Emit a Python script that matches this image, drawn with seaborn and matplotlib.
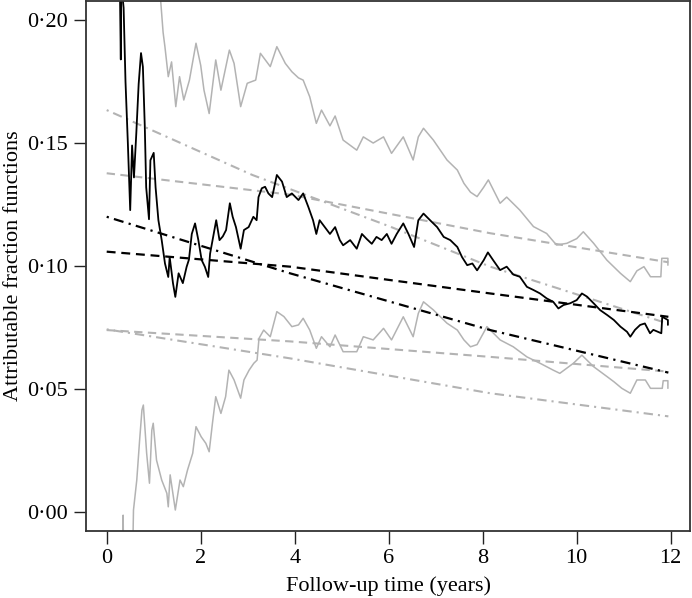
import numpy as np
import pandas as pd
import seaborn as sns
import matplotlib.pyplot as plt

# Nonparametric attributable fraction (step estimate) and its pointwise CI
af_time = [0.27, 0.30, 0.31, 0.36, 0.40, 0.45, 0.50, 0.54, 0.58, 0.63, 0.68, 0.73, 0.77, 0.81,
           0.84, 0.90, 0.93, 1.00, 1.04, 1.10, 1.17, 1.24, 1.31, 1.34, 1.41, 1.46, 1.53, 1.62,
           1.70, 1.75, 1.81, 1.88, 1.95, 2.02, 2.09, 2.16, 2.20, 2.33, 2.40, 2.47, 2.54, 2.62,
           2.68, 2.75, 2.85, 2.92, 3.02, 3.12, 3.19, 3.23, 3.30, 3.37, 3.44, 3.52, 3.62, 3.73,
           3.83, 3.94, 4.08, 4.18, 4.29, 4.39, 4.46, 4.53, 4.64, 4.75, 4.86, 4.96, 5.03, 5.18,
           5.32, 5.43, 5.53, 5.64, 5.74, 5.85, 5.96, 6.06, 6.17, 6.31, 6.42, 6.54, 6.63, 6.74,
           6.88, 7.03, 7.17, 7.31, 7.46, 7.56, 7.67, 7.78, 7.88, 8.02, 8.11, 8.22, 8.37, 8.51,
           8.65, 8.79, 8.94, 9.08, 9.22, 9.36, 9.50, 9.61, 9.72, 9.86, 10.00, 10.11, 10.22,
           10.36, 10.50, 10.65, 10.79, 10.93, 11.07, 11.14, 11.24, 11.35, 11.45, 11.56, 11.63,
           11.80, 11.82, 11.94, 11.94]
af_est = [0.230, 0.184, 0.215, 0.205, 0.175, 0.150, 0.1227, 0.149, 0.136, 0.154, 0.174, 0.1866,
          0.181, 0.157, 0.132, 0.119, 0.143, 0.146, 0.132, 0.1186, 0.1105, 0.101, 0.0955, 0.1036,
          0.093, 0.0874, 0.097, 0.093, 0.0996, 0.1026, 0.113, 0.1173, 0.1105, 0.1024, 0.0996,
          0.0955, 0.105, 0.1186, 0.1105, 0.112, 0.1146, 0.1255, 0.120, 0.1158, 0.107, 0.1146,
          0.1158, 0.120, 0.1186, 0.128, 0.1316, 0.1322, 0.1295, 0.128, 0.137, 0.1343, 0.128,
          0.1295, 0.1268, 0.1295, 0.124, 0.1186, 0.113, 0.1186, 0.1158, 0.113, 0.1158, 0.1105,
          0.1084, 0.1105, 0.107, 0.113, 0.111, 0.109, 0.1118, 0.1105, 0.113, 0.109, 0.113,
          0.1173, 0.113, 0.1077, 0.1186, 0.1213, 0.1186, 0.1158, 0.1118, 0.1105, 0.1077, 0.1036,
          0.1003, 0.1010, 0.0982, 0.1023, 0.1055, 0.1024, 0.0983, 0.0997, 0.0965, 0.0956, 0.0915,
          0.0902, 0.0888, 0.0868, 0.0854, 0.0827, 0.0841, 0.0848, 0.0861, 0.0888, 0.0875, 0.0848,
          0.082, 0.080, 0.078, 0.0753, 0.0732, 0.0712, 0.074, 0.076, 0.0766, 0.0726, 0.074,
          0.0726, 0.0793, 0.078, 0.076]

up_time = [1.12, 1.20, 1.24, 1.31, 1.38, 1.47, 1.55, 1.64, 1.76, 1.90, 2.00, 2.07, 2.18, 2.32,
           2.43, 2.61, 2.71, 2.85, 2.99, 3.17, 3.27, 3.48, 3.62, 3.80, 3.94, 4.08, 4.18, 4.32,
           4.46, 4.57, 4.75, 4.86, 5.03, 5.32, 5.46, 5.67, 5.89, 6.06, 6.31, 6.52, 6.63, 6.74,
           6.95, 7.24, 7.46, 7.60, 7.74, 7.88, 8.02, 8.12, 8.37, 8.51, 8.79, 9.08, 9.36, 9.57,
           9.79, 10.00, 10.14, 10.36, 10.64, 10.93, 11.14, 11.28, 11.43, 11.57, 11.79, 11.81,
           11.94, 11.94]
up_ci = [0.215, 0.195, 0.189, 0.177, 0.183, 0.1648, 0.177, 0.1675, 0.1756, 0.1906, 0.1816,
         0.1715, 0.162, 0.1838, 0.1715, 0.1878, 0.1824, 0.1648, 0.1743, 0.1756, 0.1865, 0.1811,
         0.1892, 0.1824, 0.179, 0.1765, 0.1756, 0.1688, 0.158, 0.1634, 0.157, 0.161, 0.1512,
         0.1471, 0.1525, 0.150, 0.1525, 0.1458, 0.1525, 0.1431, 0.1525, 0.156, 0.1512, 0.1431,
         0.139, 0.1336, 0.130, 0.1282, 0.132, 0.135, 0.1255, 0.128, 0.1227, 0.116, 0.1132,
         0.1085, 0.1092, 0.1111, 0.1139, 0.1092, 0.1024, 0.097, 0.0936, 0.098, 0.0997, 0.0956,
         0.0956, 0.1031, 0.1031, 0.1003]

lo_time = [0.33, 0.35, 0.36, 0.55, 0.57, 0.64, 0.70, 0.75, 0.78, 0.85, 0.91, 0.96, 0.99, 1.06,
           1.17, 1.28, 1.31, 1.35, 1.46, 1.56, 1.63, 1.72, 1.83, 1.90, 2.01, 2.11, 2.18, 2.25,
           2.32, 2.43, 2.53, 2.60, 2.71, 2.85, 2.92, 3.03, 3.13, 3.20, 3.24, 3.34, 3.48, 3.62,
           3.77, 3.94, 4.08, 4.18, 4.32, 4.46, 4.57, 4.75, 4.86, 5.03, 5.32, 5.46, 5.67, 5.89,
           6.06, 6.31, 6.52, 6.63, 6.74, 6.95, 7.24, 7.46, 7.60, 7.74, 7.88, 8.09, 8.37, 8.65,
           8.94, 9.22, 9.50, 9.64, 9.93, 10.11, 10.36, 10.65, 10.79, 10.96, 11.14, 11.28, 11.46,
           11.57, 11.82, 11.84, 11.94, 11.94]
lo_ci = [-0.02, -0.0014, -0.02, -0.02, 0.0007, 0.0129, 0.029, 0.0414, 0.0434, 0.0238, 0.0116,
         0.0332, 0.036, 0.021, 0.0129, 0.0075, 0.002, 0.015, 0.0007, 0.0129, 0.0102, 0.017,
         0.0238, 0.0346, 0.0305, 0.0278, 0.0244, 0.036, 0.0468, 0.040, 0.0468, 0.0576, 0.0536,
         0.0462, 0.0536, 0.0576, 0.0604, 0.0617, 0.0705, 0.0739, 0.0712, 0.0814, 0.0794, 0.0753,
         0.0760, 0.0787, 0.0739, 0.0665, 0.0712, 0.0671, 0.0719, 0.0651, 0.0651, 0.0712, 0.0699,
         0.0746, 0.0699, 0.0793, 0.0712, 0.0807, 0.0854, 0.0821, 0.0767, 0.0739, 0.0699, 0.0671,
         0.0680, 0.0753, 0.0699, 0.0671, 0.063, 0.0604, 0.0576, 0.0563, 0.0604, 0.0637, 0.059,
         0.0549, 0.0529, 0.0502, 0.0482, 0.0536, 0.0536, 0.0502, 0.0502, 0.0533, 0.0533, 0.0502]

# Model based estimates (dashed and dash-dot) with their CIs
model_time = [0.0, 3.9, 8.16, 11.95]
dash_est = [0.1058, 0.0997, 0.0888, 0.0793]
dash_up = [0.1377, 0.1290, 0.1133, 0.1015]
dash_lo = [0.0739, 0.0693, 0.0630, 0.0570]
dd_est = [0.1200, 0.0970, 0.0739, 0.0566]
dd_lo = [0.0742, 0.0624, 0.0482, 0.0388]
dd_up_time = [0.0, 3.1, 6.03, 8.16, 11.95]
dd_up = [0.1634, 0.1370, 0.1160, 0.0997, 0.0765]

xticks = [0, 2, 4, 6, 8, 10, 12]
yticks = [0.00, 0.05, 0.10, 0.15, 0.20]
ytick_labels = ["0·00", "0·05", "0·10", "0·15", "0·20"]

sns.set_theme(style="ticks")
plt.rcParams['font.family'] = ['Liberation Serif', 'DejaVu Serif']

GREY = "#b3b3b3"
DASH = (0, (4, 2.6))
DASHDOT = (0, (1, 2.4, 4.5, 2.4))

fig = plt.figure(figsize=(6.92, 5.98), dpi=100)
ax = fig.add_axes([0.1243, 0.112, 0.8728, 0.886])

# grey lines first, black on top
sns.lineplot(x=up_time, y=up_ci, ax=ax, color=GREY, lw=1.1, estimator=None, sort=False)
sns.lineplot(x=lo_time, y=lo_ci, ax=ax, color=GREY, lw=1.1, estimator=None, sort=False)
sns.lineplot(x=model_time, y=dash_up, ax=ax, color=GREY, lw=1.5, linestyle=DASH, estimator=None)
sns.lineplot(x=model_time, y=dash_lo, ax=ax, color=GREY, lw=1.5, linestyle=DASH, estimator=None)
sns.lineplot(x=dd_up_time, y=dd_up, ax=ax, color=GREY, lw=1.5, linestyle=DASHDOT, estimator=None)
sns.lineplot(x=model_time, y=dd_lo, ax=ax, color=GREY, lw=1.5, linestyle=DASHDOT, estimator=None)

sns.lineplot(x=model_time, y=dash_est, ax=ax, color="black", lw=1.6, linestyle=DASH, estimator=None)
sns.lineplot(x=model_time, y=dd_est, ax=ax, color="black", lw=1.6, linestyle=DASHDOT, estimator=None)
sns.lineplot(x=af_time, y=af_est, ax=ax, color="black", lw=1.3, estimator=None, sort=False)

ax.set_xlim(-0.44, 12.41)
ax.set_ylim(-0.00785, 0.2077)
ax.set_xticks(xticks)
ax.set_xticklabels([str(t) for t in xticks])
ax.set_yticks(yticks)
ax.set_yticklabels(ytick_labels)
ax.tick_params(axis="both", direction="out", length=9, width=1.0, color="#222222",
               labelsize=16, labelcolor="black", pad=4)

for side in ["top", "right", "left", "bottom"]:
    ax.spines[side].set_visible(True)
    ax.spines[side].set_color("#333333")
    ax.spines[side].set_linewidth(1.3)

ax.set_xlabel("Follow-up time (years)", fontsize=16, color="black", labelpad=6)
ax.set_ylabel("Attributable fraction functions", fontsize=16, color="black", labelpad=3)

fig.savefig("out.png", dpi=100)
